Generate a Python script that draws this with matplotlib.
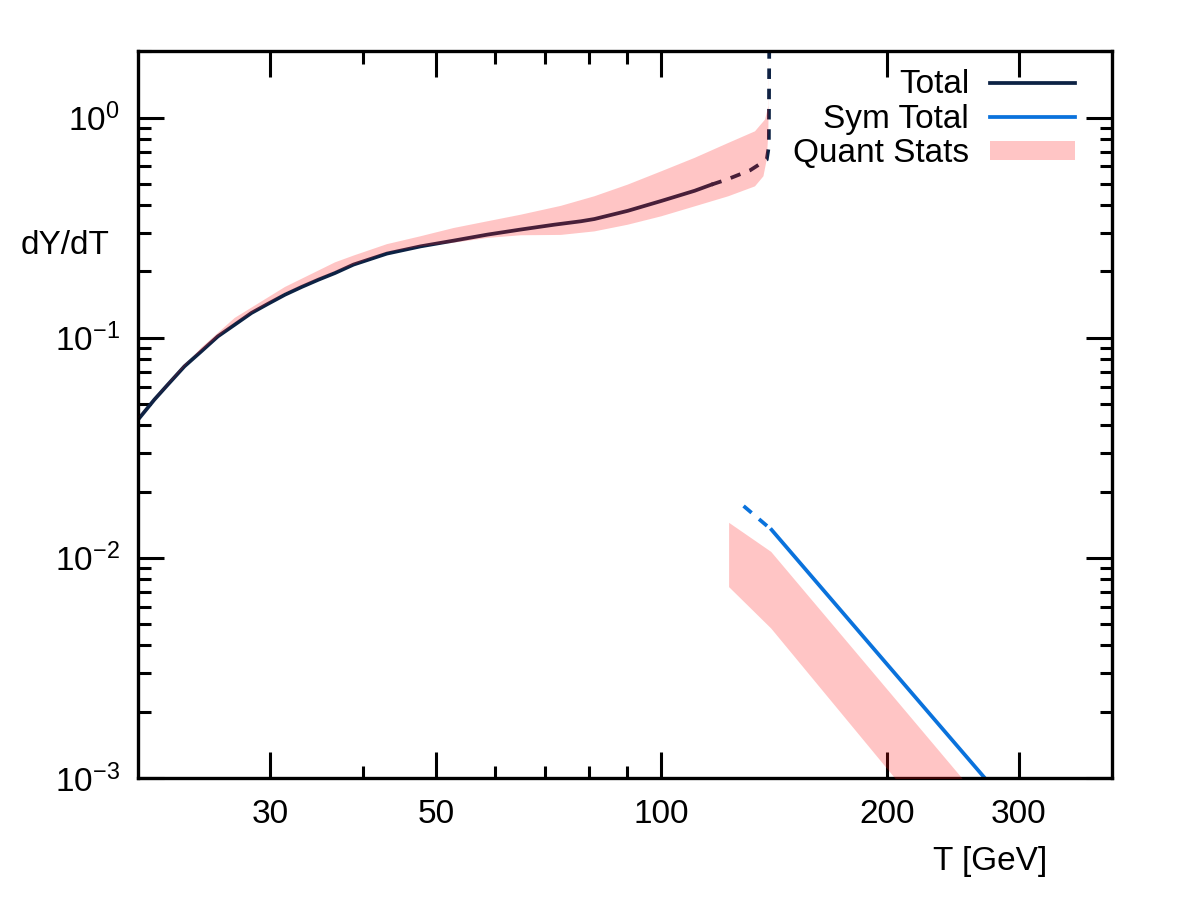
import matplotlib
matplotlib.use("Agg")
import matplotlib.pyplot as plt
from matplotlib.lines import Line2D
from matplotlib.patches import Patch
from matplotlib.ticker import FixedLocator, LogLocator, NullFormatter, FixedFormatter

plt.rcParams["font.family"] = ["Liberation Sans", "DejaVu Sans"]
plt.rcParams["mathtext.fontset"] = "custom"
plt.rcParams["mathtext.rm"] = "Liberation Sans"
plt.rcParams["mathtext.default"] = "regular"

NAVY = "#0c2244"
BLUE = "#0a72dc"
PINK = "#ff1a1a"  # drawn with alpha 0.25 -> light pink

# Total (solid part, then the dashed tail running up the wall)
total_T = [20.0, 21.03, 21.91, 23.07, 24.29, 25.57, 26.93, 28.35, 29.85, 31.43, 33.08,
           34.84, 36.67, 38.8, 43.0, 47.7, 52.8, 58.6, 64.9, 71.9, 78.1, 81.4, 90.2,
           100, 110.8, 116.7]
total_y = [0.0424, 0.0523, 0.0611, 0.0741, 0.0866, 0.1014, 0.1146, 0.1295, 0.1427, 0.1568,
           0.170, 0.1835, 0.1968, 0.2148, 0.241, 0.260, 0.276, 0.294, 0.310, 0.326, 0.338,
           0.346, 0.377, 0.418, 0.465, 0.496]
total_dash_T = [116.7, 122.3, 131.4, 138.3, 139.2, 139.4]
total_dash_y = [0.496, 0.523, 0.576, 0.644, 0.74, 2.5]

# Sym Total
sym_dash_T = [128.8, 140.4]
sym_dash_y = [0.0172, 0.0134]
sym_T = [140.4, 200, 270.4, 285]
sym_y = [0.0134, 0.0033, 0.001, 0.00081]

# Quant Stats band around Total (upper and lower edges)
band_hi_T = [20.0, 24.29, 26.93, 31.43, 36.67, 38.8, 43.0, 47.7, 52.8, 58.6, 64.9, 73.4,
             81.4, 90.2, 100, 110.8, 122.9, 133.4, 137.6, 139.0, 139.3]
band_hi = [0.0435, 0.090, 0.123, 0.170, 0.220, 0.236, 0.266, 0.289, 0.315, 0.338, 0.362,
           0.397, 0.439, 0.496, 0.570, 0.656, 0.767, 0.866, 0.98, 1.13, 2.5]
band_lo_T = [20.0, 23.07, 26.93, 31.43, 36.67, 43.0, 47.7, 52.8, 58.6, 64.9, 73.4, 81.4,
             90.2, 100, 110.8, 122.9, 133.4, 136.9, 138.3, 139.0, 139.3]
band_lo = [0.0433, 0.0757, 0.1170, 0.1600, 0.2005, 0.2450, 0.2600, 0.2700, 0.284, 0.292,
           0.293, 0.304, 0.326, 0.356, 0.395, 0.439, 0.487, 0.541, 0.644, 0.855, 2.5]

# Quant Stats band around Sym Total
sym_band_T = [123, 140, 205, 252]
sym_band_hi = [0.0145, 0.0107, 0.0023, 0.001]
sym_band_lo = [0.0074, 0.0048, 0.001, 0.00043]

x_major = [30, 50, 100, 200, 300]
x_major_labels = ["30", "50", "100", "200", "300"]
x_minor = [40, 60, 70, 80, 90]

LW = 2.7
DASH = (2.8, 2.6)
FS = 24

fig = plt.figure(figsize=(12, 9), dpi=100)
ax = fig.add_axes([0.115, 0.1356, 0.8117, 0.8074])
ax.set_xscale("log")
ax.set_yscale("log")

ax.plot(total_T, total_y, color=NAVY, lw=LW, zorder=2)
ax.plot(total_dash_T, total_dash_y, color=NAVY, lw=LW, dashes=DASH, zorder=2)
ax.plot(sym_dash_T, sym_dash_y, color=BLUE, lw=LW, dashes=DASH, zorder=2)
ax.plot(sym_T, sym_y, color=BLUE, lw=LW, zorder=2)

ax.fill(band_hi_T + band_lo_T[::-1], band_hi + band_lo[::-1],
        color=PINK, alpha=0.25, lw=0, zorder=3)
ax.fill_between(sym_band_T, sym_band_lo, sym_band_hi, color=PINK, alpha=0.25, lw=0, zorder=3)

ax.set_xlim(20, 400)
ax.set_ylim(1e-3, 2)

ax.xaxis.set_major_locator(FixedLocator(x_major))
ax.xaxis.set_major_formatter(FixedFormatter(x_major_labels))
ax.xaxis.set_minor_locator(FixedLocator(x_minor))
ax.xaxis.set_minor_formatter(NullFormatter())
ax.yaxis.set_major_locator(LogLocator(base=10, numticks=10))
ax.yaxis.set_minor_locator(LogLocator(base=10, subs=range(2, 10), numticks=20))
ax.yaxis.set_minor_formatter(NullFormatter())

ax.tick_params(which="both", direction="in", top=True, right=True, width=2.2, labelsize=FS)
ax.tick_params(which="major", length=19)
ax.tick_params(which="minor", length=9)
ax.tick_params(axis="x", which="major", pad=15)
ax.tick_params(axis="y", which="major", pad=13)
for sp in ax.spines.values():
    sp.set_linewidth(2.4)

ax.set_ylabel("dY/dT", rotation=0, fontsize=FS, va="center", ha="center")
ax.yaxis.set_label_coords(-0.075, 0.733)
ax.set_xlabel("T [GeV]", fontsize=FS, va="center", ha="center")
ax.xaxis.set_label_coords(0.875, -0.1155)

handles = [
    Line2D([], [], color=NAVY, lw=LW),
    Line2D([], [], color=BLUE, lw=LW),
    Patch(facecolor=PINK, alpha=0.25, lw=0),
]
ax.legend(handles, ["Total", "Sym Total", "Quant Stats"], loc="upper right",
          bbox_to_anchor=(0.962, 0.975), frameon=False, markerfirst=False, fontsize=FS,
          handlelength=2.55, handleheight=0.5, handletextpad=0.63, labelspacing=0.1,
          borderpad=0, borderaxespad=0)

fig.savefig("out.png", dpi=100)
